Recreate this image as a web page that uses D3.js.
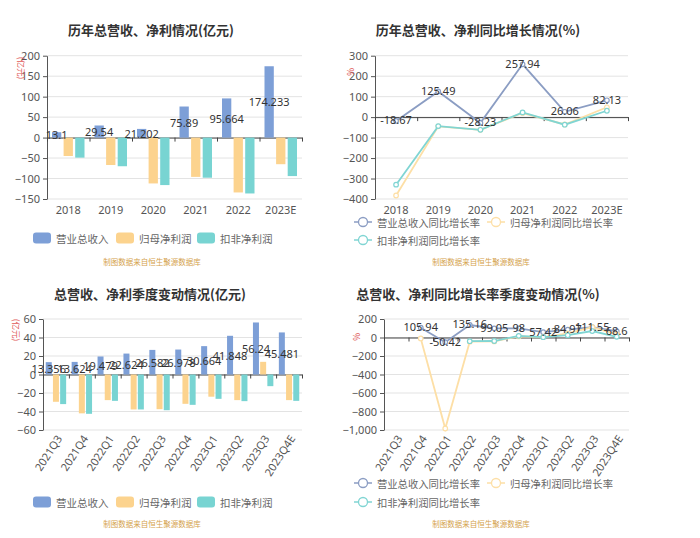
<!DOCTYPE html>
<html><head><meta charset="utf-8">
<script src="https://cdn.jsdelivr.net/npm/d3@7"></script>
<style>body{margin:0;background:#fff;} svg{font-family:"Noto Sans CJK SC","Noto Sans",sans-serif;display:block;}</style>
</head><body><svg width="700" height="538"></svg>
<script>
// ---------- data ----------
const years = ["2018","2019","2020","2021","2022","2023E"];
const annualRevenue = [13.1, 29.54, 21.202, 75.89, 95.664, 174.233];
const annualRevenueLabels = ["13.1","29.54","21.202","75.89","95.664","174.233"];
const annualNetProfit = [-45, -67, -112, -96, -134, -65];
const annualDeducted = [-49, -70, -116, -98, -136.5, -94];

const revenueGrowth = [-18.67, 125.49, -28.23, 257.94, 26.06, 82.13];
const revenueGrowthLabels = ["-18.67","125.49","-28.23","257.94","26.06","82.13"];
const netProfitGrowth = [-383, -45, -62, 20, -36, 48];
const deductedGrowth = [-330, -44, -62, 23, -37, 31];

const quarters = ["2021Q3","2021Q4","2022Q1","2022Q2","2022Q3","2022Q4","2023Q1","2023Q2","2023Q3","2023Q4E"];
const qRevenue = [13.356, 13.624, 19.479, 22.624, 26.582, 26.978, 30.664, 41.848, 56.24, 45.481];
const qRevenueLabels = ["13.356","13.624","19.479","22.624","26.582","26.978","30.664","41.848","56.24","45.481"];
const qNetProfit = [-29.5, -42, -27.7, -37.8, -37.5, -31.7, -24, -27.7, 13.7, -27.7];
const qDeducted = [-32, -42.5, -28.5, -37.8, -38.6, -32.8, -26.3, -28.8, -12.6, -28.5];

const qRevenueGrowth = [null, 105.94, -50.42, 135.16, 99.05, 98, 57.42, 84.97, 111.55, 68.6];
const qRevenueGrowthLabels = ["", "105.94", "-50.42", "135.16", "99.05", "98", "57.42", "84.97", "111.55", "68.6"];
const qNetProfitGrowth = [null, -10, -984, -45, -42, 12, 5, 45, 112, 35];
const qDeductedGrowth = [null, null, null, -40, -38, 18, 3, 25, 70, 8];

const ticks1 = [-150,-100,-50,0,50,100,150,200];
const ticks2 = [-400,-300,-200,-100,0,100,200,300];
const ticks3 = [-60,-40,-20,0,20,40,60];
const ticks4 = [-1000,-800,-600,-400,-200,0,200];

const barNames = ["营业总收入","归母净利润","扣非净利润"];
const lineNames = ["营业总收入同比增长率","归母净利润同比增长率","扣非净利润同比增长率"];
const titles = ["历年总营收、净利情况(亿元)","历年总营收、净利同比增长情况(%)","总营收、净利季度变动情况(亿元)","总营收、净利同比增长率季度变动情况(%)"];
const sourceText = "制图数据来自恒生聚源数据库";

const barColors = ["#7d9fd7","#fcd38e","#78d4d2"];
const lineColors = ["#8b9dc3","#fddfa6","#80d5d3"];

// ---------- helpers ----------
const svg = d3.select("svg");

function title(text, cx, cy){
  svg.append("text").attr("x",cx).attr("y",cy).attr("text-anchor","middle")
    .attr("dominant-baseline","central").attr("font-size",13).attr("font-weight","bold")
    .attr("fill","#333").text(text);
}
function source(cx, cy){
  svg.append("text").attr("x",cx).attr("y",cy).attr("text-anchor","middle")
    .attr("dominant-baseline","central").attr("font-size",7.5).attr("fill","#d4a24c").text(sourceText);
}
function unitLabel(text, x, y, rotate){
  const t = svg.append("text").attr("font-size",8.5).attr("fill","#e05a5a")
    .attr("text-anchor","middle").attr("dominant-baseline","central").text(text);
  t.attr("transform", `translate(${x},${y}) rotate(${rotate})`);
}
function frame(x, y, ticks, fmt){
  const [l, r] = x.range();
  const n = x.domain().length;
  const g = svg.append("g");
  g.selectAll("line.grid").data(ticks).join("line").attr("class","grid")
    .attr("x1",l).attr("x2",r).attr("y1",d=>y(d)).attr("y2",d=>y(d))
    .attr("stroke","#e3e3e3").attr("stroke-width",1);
  const ax = svg.append("g").attr("transform",`translate(${l},0)`)
    .call(d3.axisLeft(y).tickValues(ticks).tickFormat(fmt).tickSize(4).tickSizeOuter(0).tickPadding(3));
  ax.select(".domain").attr("stroke","#555");
  ax.selectAll(".tick line").attr("stroke","#555");
  ax.selectAll("text").attr("font-size",11).attr("fill","#555").attr("font-family","'Noto Sans',sans-serif");
  const xb = d3.scaleLinear().domain([0,n]).range([l,r]);
  const zx = svg.append("g").attr("transform",`translate(0,${y(0)})`)
    .call(d3.axisBottom(xb).tickValues(d3.range(n+1)).tickFormat("").tickSize(4).tickSizeOuter(0));
  zx.select(".domain").attr("stroke","#444");
  zx.selectAll(".tick line").attr("stroke","#444");
}
function xLabelsFlat(x, yPos){
  svg.append("g").selectAll("text").data(x.domain()).join("text")
    .attr("x",d=>x(d)+x.bandwidth()/2).attr("y",yPos).attr("text-anchor","middle")
    .attr("dominant-baseline","central").attr("font-size",11).attr("fill","#555")
    .attr("font-family","'Noto Sans',sans-serif").text(d=>d);
}
function xLabelsRot(x, yPos){
  svg.append("g").selectAll("text").data(x.domain()).join("text")
    .attr("transform",d=>`translate(${x(d)+x.bandwidth()/2+3},${yPos}) rotate(-57)`)
    .attr("text-anchor","end").attr("dominant-baseline","central").attr("font-size",11)
    .attr("fill","#555").attr("font-family","'Noto Sans',sans-serif").text(d=>d);
}
function bars(x, y, seriesList, bw, step, labels, fs){
  const g = svg.append("g");
  seriesList.forEach((vals, k)=>{
    g.selectAll(null).data(vals.map((v,i)=>({v,c:x.domain()[i]}))).join("rect")
      .attr("x",d=>x(d.c)+x.bandwidth()/2+(k-1)*step-bw/2)
      .attr("width",bw)
      .attr("y",d=>Math.min(y(0),y(d.v)))
      .attr("height",d=>Math.abs(y(d.v)-y(0)))
      .attr("fill",barColors[k]);
  });
  svg.append("g").selectAll("text").data(seriesList[0].map((v,i)=>({v,c:x.domain()[i],t:labels[i]}))).join("text")
    .attr("x",d=>x(d.c)+x.bandwidth()/2-step).attr("y",d=>(y(0)+y(d.v))/2)
    .attr("text-anchor","middle").attr("dominant-baseline","central")
    .attr("font-size",fs).attr("fill","#333").attr("font-family","'Noto Sans',sans-serif").text(d=>d.t);
}
function lines(x, y, seriesList, labels, fs){
  seriesList.forEach((vals,k)=>{
    const pts = vals.map((v,i)=>({v,c:x.domain()[i]}));
    const line = d3.line().defined(d=>d.v!==null).x(d=>x(d.c)+x.bandwidth()/2).y(d=>y(d.v));
    svg.append("path").datum(pts).attr("d",line).attr("fill","none")
      .attr("stroke",lineColors[k]).attr("stroke-width",1.8);
    svg.append("g").selectAll("circle").data(pts.filter(d=>d.v!==null)).join("circle")
      .attr("cx",d=>x(d.c)+x.bandwidth()/2).attr("cy",d=>y(d.v)).attr("r",2.3)
      .attr("fill","#fff").attr("stroke",lineColors[k]).attr("stroke-width",1.2);
  });
  const pts0 = seriesList[0].map((v,i)=>({v,c:x.domain()[i],t:labels[i]})).filter(d=>d.v!==null);
  svg.append("g").selectAll("text").data(pts0).join("text")
    .attr("x",d=>x(d.c)+x.bandwidth()/2).attr("y",d=>y(d.v)-1)
    .attr("text-anchor","middle").attr("dominant-baseline","central")
    .attr("font-size",fs).attr("fill","#333").attr("font-family","'Noto Sans',sans-serif").text(d=>d.t);
}
function barLegend(x0, yc){
  const offs = [0, 83, 164];
  barNames.forEach((n,k)=>{
    svg.append("rect").attr("x",x0+offs[k]).attr("y",yc-5.5).attr("width",18).attr("height",11)
      .attr("rx",3).attr("fill",barColors[k]);
    svg.append("text").attr("x",x0+offs[k]+23).attr("y",yc).attr("dominant-baseline","central")
      .attr("font-size",10.5).attr("fill","#666").text(n);
  });
}
function lineLegend(x0, y1, y2){
  const pos = [[x0,y1],[x0+133,y1],[x0,y2]];
  lineNames.forEach((n,k)=>{
    const [px,py] = pos[k];
    svg.append("line").attr("x1",px).attr("x2",px+18).attr("y1",py).attr("y2",py)
      .attr("stroke",lineColors[k]).attr("stroke-width",1.5);
    svg.append("circle").attr("cx",px+9).attr("cy",py).attr("r",4.5).attr("fill","#fff")
      .attr("stroke",lineColors[k]).attr("stroke-width",1.3);
    svg.append("text").attr("x",px+23).attr("y",py).attr("dominant-baseline","central")
      .attr("font-size",10.3).attr("fill","#666").text(n);
  });
}

// ---------- chart 1 ----------
title(titles[0], 151, 29);
const x1 = d3.scaleBand().domain(years).range([47,302]);
const y1 = d3.scaleLinear().domain([-150,200]).range([199,55.7]);
frame(x1, y1, ticks1, d3.format("d"));
unitLabel("(亿元)", 22, 68, 90);
bars(x1, y1, [annualRevenue, annualNetProfit, annualDeducted], 9.3, 11.6, annualRevenueLabels, 11);
xLabelsFlat(x1, 209);
barLegend(33, 238);
source(152, 261);

// ---------- chart 2 ----------
title(titles[1], 478, 29);
const x2 = d3.scaleBand().domain(years).range([375,628]);
const y2 = d3.scaleLinear().domain([-400,300]).range([199,55.7]);
frame(x2, y2, ticks2, d3.format("d"));
unitLabel("%", 351, 72, 90);
lines(x2, y2, [revenueGrowth, netProfitGrowth, deductedGrowth], revenueGrowthLabels, 11);
xLabelsFlat(x2, 209);
lineLegend(354, 222, 240);
source(481, 261);

// ---------- chart 3 ----------
title(titles[2], 150, 293);
const x3 = d3.scaleBand().domain(quarters).range([43,302]);
const y3 = d3.scaleLinear().domain([-60,60]).range([430,319]);
frame(x3, y3, ticks3, d3.format("d"));
unitLabel("(亿元)", 17, 330, 90);
bars(x3, y3, [qRevenue, qNetProfit, qDeducted], 6, 7.2, qRevenueLabels, 11);
xLabelsRot(x3, 436);
barLegend(33, 502);
source(152, 523);

// ---------- chart 4 ----------
title(titles[3], 478, 293);
const x4 = d3.scaleBand().domain(quarters).range([384,629]);
const y4 = d3.scaleLinear().domain([-1000,200]).range([430,319]);
frame(x4, y4, ticks4, d3.format(","));
unitLabel("%", 357, 337, 90);
lines(x4, y4, [qRevenueGrowth, qNetProfitGrowth, qDeductedGrowth], qRevenueGrowthLabels, 11);
xLabelsRot(x4, 436);
lineLegend(354, 483, 502);
source(481, 523);
</script></body></html>
